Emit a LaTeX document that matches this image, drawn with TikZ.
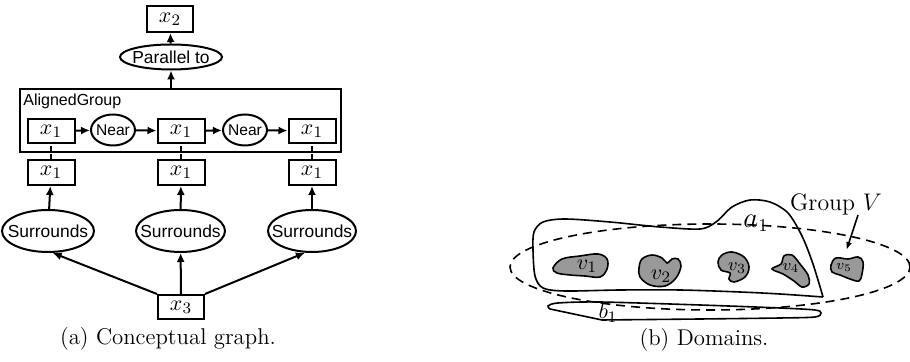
\documentclass[tikz,border=0pt]{standalone}
\usepackage{fontspec}
\newfontfamily\lsans{Liberation Sans}
\usetikzlibrary{shapes.geometric,arrows.meta}
\begin{document}
\begin{tikzpicture}[x=0.5pt,y=-0.5pt,
  every node/.style={inner sep=0pt},
  graphline/.style={line width=1pt},
  arr/.style={graphline,-{Latex[length=4.5pt,width=4pt]}},
  varbox/.style={draw,graphline,rectangle,minimum width=23.5pt,minimum height=12pt,
    font=\fontsize{10.8}{13}\selectfont},
  relell/.style={draw,graphline,ellipse,inner sep=0pt},
  relfont/.style={inner sep=0pt,font=\lsans\fontsize{8.7}{10}\selectfont},
  nearfont/.style={inner sep=0pt,font=\lsans\fontsize{7.8}{9}\selectfont},
  region/.style={line width=0.8pt},
  blob/.style={draw,line width=0.8pt,fill=black!40},
  caption/.style={font=\fontsize{11.4}{13}\selectfont}
]
\useasboundingbox (0,0) rectangle (910,362);

% ---------- (a) conceptual graph ----------
\node[varbox,minimum width=23pt,minimum height=13pt] (x2) at (170,19) {$x_2$};
\node[relell,minimum width=51pt,minimum height=12.5pt,
  label={[relfont]center:Parallel to}] (par) at (171,57) {};

\node[draw,graphline,minimum width=160.5pt,minimum height=31.5pt] (grp) at (180.5,120.5) {};
\node[anchor=north west,font=\lsans\fontsize{8}{9}\selectfont] (grplab) at (23,94) {AlignedGroup};

\node[varbox] (i1) at (51,131) {$x_1$};
\node[relell,minimum width=22pt,minimum height=15.5pt,
  label={[nearfont]center:Near}] (n1) at (113,130) {};
\node[varbox] (i2) at (181,131) {$x_1$};
\node[relell,minimum width=22pt,minimum height=15.5pt,
  label={[nearfont]center:Near}] (n2) at (245,130) {};
\node[varbox] (i3) at (312,131) {$x_1$};

\node[varbox,minimum height=12.5pt] (o1) at (51,172.5) {$x_1$};
\node[varbox,minimum height=12.5pt] (o2) at (181,172.5) {$x_1$};
\node[varbox,minimum height=12.5pt] (o3) at (312,172.5) {$x_1$};

\node[relell,minimum width=46pt,minimum height=21pt,
  label={[relfont]center:Surrounds}] (s1) at (48,231) {};
\node[relell,minimum width=44.5pt,minimum height=21pt,
  label={[relfont]center:Surrounds}] (s2) at (180.5,231) {};
\node[relell,minimum width=44pt,minimum height=21pt,
  label={[relfont]center:Surrounds}] (s3) at (312,231) {};

\node[varbox,minimum width=23pt,minimum height=12pt] (x3) at (181,307) {$x_3$};

\draw[arr] (par) -- (x2);
\draw[arr] (grp.north -| par) -- (par);
\draw[arr] (i1) -- (n1);
\draw[arr] (n1) -- (i2);
\draw[arr] (i2) -- (n2);
\draw[arr] (n2) -- (i3);
\draw[graphline,dashed,dash pattern=on 2.5pt off 1.5pt] (o1) -- (i1);
\draw[graphline,dashed,dash pattern=on 2.5pt off 1.5pt] (o2) -- (i2);
\draw[graphline,dashed,dash pattern=on 2.5pt off 1.5pt] (o3) -- (i3);
\draw[arr] (s1) -- (o1);
\draw[arr] (s2) -- (o2);
\draw[arr] (s3) -- (o3);
\draw[arr] (x3.north west) -- (s1.-78);
\draw[arr] (x3) -- (s2);
\draw[arr] (x3.north east) -- (s3.-108);

\node[caption] (capa) at (168,339) {(a)\ Conceptual graph.};

% ---------- (b) domains ----------
% region a_1
\draw[region] plot[smooth,tension=0.5] coordinates {
  (823,297) (780,294) (740,292) (680,290) (620,290) (565,291) (543,288)
  (535,276) (533,250) (534,232) (543,222) (565,219) (610,222) (660,227)
  (700,229) (716,222) (732,207) (750,200) (770,202) (788,213) (802,236)
  (813,264) (823,297)};
% region b_1
\draw[region] plot[smooth,tension=0.5] coordinates {
  (550,309) (548,306) (558,303) (600,302) (700,305) (780,308) (815,310)
  (821,313) (815,317) (780,318) (700,319) (602,320)} -- cycle;
% group V
\node[draw,region,dashed,dash pattern=on 4.5pt off 3pt,ellipse,
  minimum width=200pt,minimum height=43pt] (gV) at (710,267) {};

% members of V
\filldraw[blob] plot[smooth cycle,tension=0.6] coordinates {
  (553,268) (562,259) (580,256) (598,254) (607,259) (607,269) (600,277)
  (585,276) (570,275) (557,273)};
\filldraw[blob] plot[smooth cycle,tension=0.6] coordinates {
  (639,268) (642,259) (652,255) (662,258) (667,263) (672,259) (678,259)
  (681,266) (676,278) (665,286) (650,285) (640,277)};
\filldraw[blob] plot[smooth cycle,tension=0.6] coordinates {
  (718,262) (722,255) (732,252) (744,257) (749,267) (745,277) (734,282)
  (729,279) (730,273) (721,270)};
\filldraw[blob] plot[smooth cycle,tension=0.55] coordinates {
  (772,269) (781,264) (784,256) (792,255) (800,264) (808,275) (809,284)
  (802,287) (794,281) (783,274)};
\filldraw[blob] plot[smooth cycle,tension=0.6] coordinates {
  (831,265) (836,258) (848,259) (858,257) (863,262) (862,274) (859,281)
  (850,279) (840,275) (832,272)};

\node[font=\fontsize{11}{13}\selectfont] (v1) at (587,266) {$v_1$};
\node[font=\fontsize{11}{13}\selectfont] (v2) at (661,276) {$v_2$};
\node[font=\fontsize{9.5}{11}\selectfont] (v3) at (737,268) {$v_3$};
\node[font=\fontsize{8.5}{10}\selectfont] (v4) at (791,268) {$v_4$};
\node[font=\fontsize{7.5}{9}\selectfont] (v5) at (844,267) {$v_5$};

\node[font=\fontsize{13.5}{15}\selectfont] (a1) at (756,223) {$a_1$};
\node[font=\fontsize{10.8}{13}\selectfont] (b1) at (608,313) {$b_1$};

\node[font=\fontsize{11.9}{14}\selectfont] (gVlab) at (836,204) {Group $V$};
\coordinate (gVpt) at (846.5,250);
\draw[region,-{Latex[length=4pt,width=3pt]}] ([xshift=11pt]gVlab.south) -- (gVpt);

\node[caption] (capb) at (704,340) {(b)\ Domains.};
\end{tikzpicture}
\end{document}
